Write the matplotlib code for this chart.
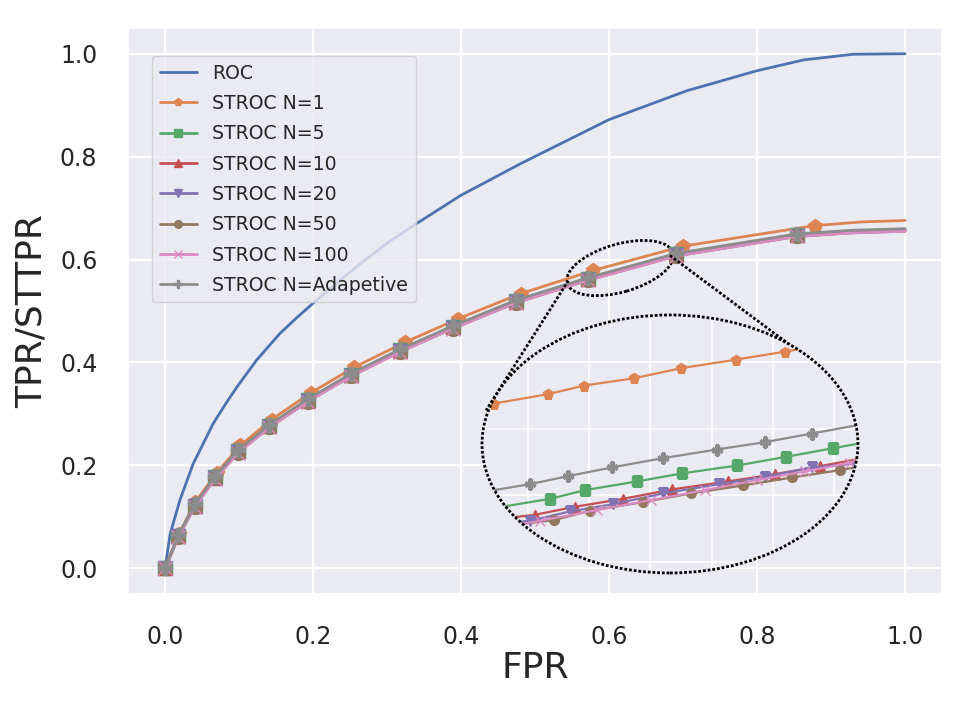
import matplotlib
matplotlib.use("Agg")
import matplotlib.pyplot as plt
import seaborn as sns
from matplotlib.patches import Ellipse
from matplotlib.transforms import ScaledTranslation

sns.set_theme(style="darkgrid")
plt.rcParams['font.family'] = ['DejaVu Sans']

# ---------------- data ----------------
series_labels = ["ROC", "STROC N=1", "STROC N=5", "STROC N=10", "STROC N=20",
                 "STROC N=50", "STROC N=100", "STROC N=Adapetive"]
series_colors = ["#4C72B0", "#DD8452", "#55A868", "#C44E52", "#8172B3",
                 "#937860", "#DA8BC3", "#8C8C8C"]
series_markers = [None, "p", "s", "^", "v", "o", "x", "P"]

roc_fpr = [0, 0.007, 0.020, 0.038, 0.065, 0.083, 0.097, 0.124, 0.155, 0.178,
           0.200, 0.230, 0.264, 0.300, 0.340, 0.400, 0.480, 0.600, 0.705,
           0.800, 0.863, 0.930, 1.0]
roc_tpr = [0, 0.067, 0.132, 0.203, 0.281, 0.322, 0.352, 0.405, 0.456, 0.487,
           0.515, 0.552, 0.592, 0.632, 0.670, 0.725, 0.786, 0.872, 0.928,
           0.967, 0.988, 0.999, 1.0]

n1_fpr = [0, 0.019, 0.041, 0.070, 0.102, 0.144, 0.197, 0.256, 0.324, 0.396,
          0.481, 0.579, 0.700, 0.878, 0.940, 1.0]
n1_tpr = [0, 0.067, 0.129, 0.186, 0.239, 0.289, 0.341, 0.391, 0.439, 0.485,
          0.534, 0.579, 0.626, 0.666, 0.673, 0.676]

stroc_fpr = [0, 0.018, 0.040, 0.068, 0.099, 0.141, 0.193, 0.251, 0.318, 0.389,
             0.474, 0.572, 0.691, 0.854, 0.930, 1.0]
n5_tpr = [0, 0.063, 0.122, 0.177, 0.228, 0.277, 0.327, 0.376, 0.424, 0.469,
          0.519, 0.563, 0.610, 0.648, 0.655, 0.658]
n10_tpr = [0, 0.062, 0.121, 0.176, 0.227, 0.276, 0.326, 0.375, 0.423, 0.468,
           0.518, 0.562, 0.609, 0.647, 0.654, 0.657]
n20_tpr = [0, 0.062, 0.121, 0.175, 0.226, 0.275, 0.325, 0.374, 0.422, 0.467,
           0.517, 0.561, 0.608, 0.646, 0.653, 0.656]
n50_tpr = [0, 0.061, 0.120, 0.175, 0.225, 0.274, 0.324, 0.373, 0.421, 0.466,
           0.516, 0.560, 0.607, 0.645, 0.652, 0.655]
n100_tpr = [0, 0.061, 0.120, 0.174, 0.225, 0.274, 0.324, 0.373, 0.421, 0.466,
            0.516, 0.560, 0.607, 0.645, 0.652, 0.655]
nad_tpr = [0, 0.064, 0.124, 0.179, 0.230, 0.279, 0.329, 0.378, 0.426, 0.471,
           0.521, 0.565, 0.612, 0.650, 0.657, 0.660]

# zoomed-in detail shown inside the big ellipse
zin_n1_x = [0.5612, 0.5690, 0.5865, 0.5984, 0.6147, 0.6300, 0.6480, 0.6640, 0.6917]
zin_n1_y = [0.5932, 0.5938, 0.5952, 0.5965, 0.5976, 0.5991, 0.6004, 0.6016, 0.6038]
zin_n5_x = [0.5612, 0.5873, 0.5987, 0.6156, 0.6302, 0.6484, 0.6643, 0.6797, 0.6917]
zin_n5_y = [0.5775, 0.5795, 0.5808, 0.5821, 0.5833, 0.5845, 0.5858, 0.5871, 0.5881]
zin_n10_x = [0.5612, 0.5824, 0.5954, 0.6112, 0.6270, 0.6453, 0.6607, 0.6754, 0.6917]
zin_n10_y = [0.5760, 0.5771, 0.5783, 0.5795, 0.5809, 0.5821, 0.5832, 0.5844, 0.5858]
zin_n20_x = [0.5612, 0.5808, 0.5938, 0.6079, 0.6242, 0.6425, 0.6574, 0.6727, 0.6917]
zin_n20_y = [0.5753, 0.5762, 0.5776, 0.5787, 0.5803, 0.5817, 0.5828, 0.5842, 0.5850]
zin_n50_x = [0.5612, 0.5886, 0.6003, 0.6177, 0.6332, 0.6503, 0.6663, 0.6819, 0.6917]
zin_n50_y = [0.5748, 0.5763, 0.5777, 0.5790, 0.5803, 0.5815, 0.5827, 0.5838, 0.5846]
zin_n100_x = [0.5612, 0.5840, 0.6025, 0.6201, 0.6379, 0.6548, 0.6705, 0.6852, 0.6917]
zin_n100_y = [0.5742, 0.5762, 0.5778, 0.5793, 0.5808, 0.5823, 0.5836, 0.5849, 0.5855]
zin_nad_x = [0.5612, 0.5808, 0.5931, 0.6074, 0.6241, 0.6417, 0.6574, 0.6727, 0.6917]
zin_nad_y = [0.5802, 0.5817, 0.5829, 0.5842, 0.5856, 0.5869, 0.5880, 0.5893, 0.5909]
zin_xticks = [0.58, 0.60, 0.62, 0.64, 0.66, 0.68]
zin_yticks = [0.57, 0.58, 0.59, 0.60]

x_ticks = [0.0, 0.2, 0.4, 0.6, 0.8, 1.0]
y_ticks = [0.0, 0.2, 0.4, 0.6, 0.8, 1.0]

# ---------------- figure ----------------
fig = plt.figure(figsize=(9.64, 7.02), dpi=100)
ax = fig.add_axes([0.1328, 0.1538, 0.8444, 0.8063])

ax.plot(roc_fpr, roc_tpr, color=series_colors[0], lw=2.0, label=series_labels[0])
main_sets = [(n1_fpr, n1_tpr), (stroc_fpr, n5_tpr), (stroc_fpr, n10_tpr),
             (stroc_fpr, n20_tpr), (stroc_fpr, n50_tpr), (stroc_fpr, n100_tpr),
             (stroc_fpr, nad_tpr)]
for i, (xs, ys) in enumerate(main_sets, start=1):
    ax.plot(xs, ys, color=series_colors[i], marker=series_markers[i], ms=10,
            lw=2.0, markevery=list(range(len(xs) - 2)), label=series_labels[i])

ax.set_xlim(-0.05, 1.05)
ax.set_ylim(-0.05, 1.05)
ax.set_xticks(x_ticks)
ax.set_yticks(y_ticks)
ax.tick_params(axis='both', labelsize=17, pad=16, colors='.15')
ax.grid(True, color='white', lw=1.6)
ax.set_xlabel("FPR", fontsize=26, color='.15', labelpad=2)
ax.set_ylabel("TPR/STTPR", fontsize=26, color='.15', labelpad=8)

ax.legend(loc='upper left', bbox_to_anchor=(0.0295, 0.9505), borderaxespad=0,
          fontsize=13.6, markerscale=0.55, frameon=True, labelspacing=0.6)

# ---------------- zoom annotation ----------------
dots = (0, (1, 0.7))
small = Ellipse((0, 0), 1.10, 0.48, angle=16, fill=False, edgecolor='black',
                lw=2, linestyle=dots,
                transform=fig.dpi_scale_trans + ScaledTranslation(0.6149, 0.5835, ax.transData))
ax.add_artist(small)
ax.plot([0.545, 0.4338], [0.559, 0.3068], color='black', lw=2, linestyle=dots)
ax.plot([0.6824, 0.8486], [0.6078, 0.4297], color='black', lw=2, linestyle=dots)

axins = fig.add_axes([0.5, 0.1838, 0.39, 0.3675])
axins.set_xlim(0.56509, 0.68777)
axins.set_ylim(0.56836, 0.6071)
axins.axis('off')
bg = Ellipse((0.5, 0.5), 1, 1, transform=axins.transAxes, facecolor='#EAEAF2',
             edgecolor='none', zorder=0)
axins.add_patch(bg)
for t in zin_xticks:
    axins.axvline(t, color='white', lw=1.1, clip_path=bg, zorder=1)
for t in zin_yticks:
    axins.axhline(t, color='white', lw=1.1, clip_path=bg, zorder=1)

zin_sets = [(zin_n1_x, zin_n1_y), (zin_n5_x, zin_n5_y), (zin_n10_x, zin_n10_y),
            (zin_n20_x, zin_n20_y), (zin_n50_x, zin_n50_y), (zin_n100_x, zin_n100_y),
            (zin_nad_x, zin_nad_y)]
for i, (xs, ys) in enumerate(zin_sets, start=1):
    axins.plot(xs, ys, color=series_colors[i], marker=series_markers[i], ms=7,
               lw=1.6, markevery=slice(1, -1), clip_path=bg, zorder=2)

border = Ellipse((0.5, 0.5), 1, 1, transform=axins.transAxes, fill=False,
                 edgecolor='black', lw=2, linestyle=dots, zorder=5, clip_on=False)
axins.add_patch(border)

fig.savefig("out.png", dpi=100)
